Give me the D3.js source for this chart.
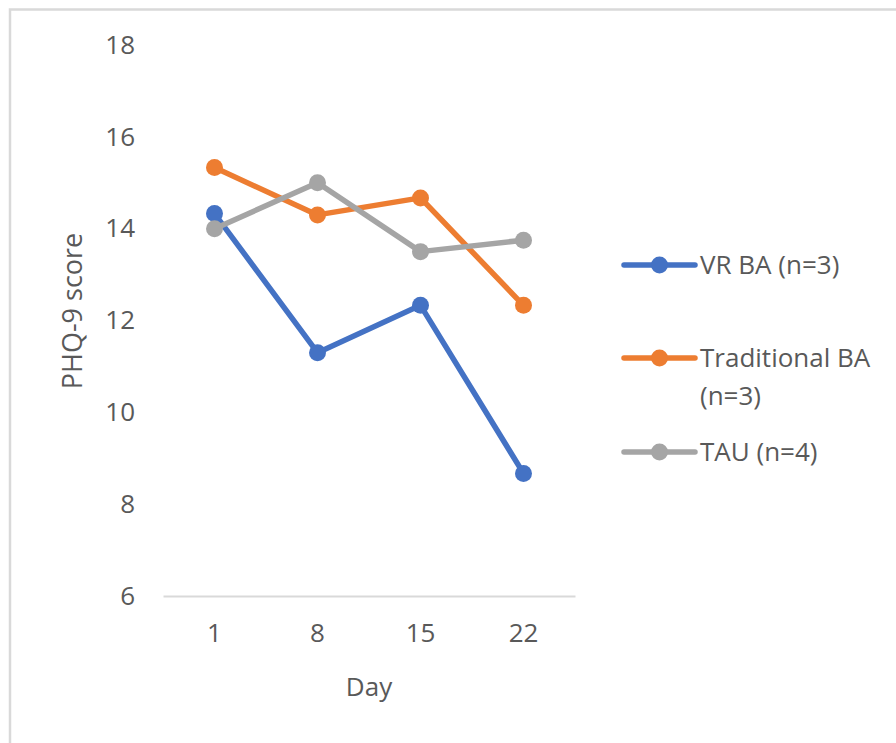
<!DOCTYPE html>
<html lang="en">
    <head>
        <meta charset="utf-8">
        <title>PHQ-9 score by day</title>
        <script src="https://d3js.org/d3.v7.min.js"></script>
        <style type="text/css">
            body {
              margin: 0;
              background: white;
            }
            text {
              font-family: "Open Sans", "Noto Sans", sans-serif;
              fill: #595959;
            }
        </style>
    </head>
    <body>
        <div id="chart"></div>

        <script type="text/javascript">

        //DATA
            const days = ["1", "8", "15", "22"];
            const vrBA = [14.33, 11.3, 12.33, 8.67];
            const traditionalBA = [15.33, 14.3, 14.67, 12.33];
            const tau = [14, 15, 13.5, 13.75];
            const seriesNames = ["VR BA (n=3)", "Traditional BA (n=3)", "TAU (n=4)"];
            const yTicks = [6, 8, 10, 12, 14, 16, 18];

        //CONSTANTS
            const w = 896;
            const h = 743;
            const colors = ["#4472C4", "#ED7D31", "#A5A5A5"];

            const series = [vrBA, traditionalBA, tau].map((vals, i) => ({
                name: seriesNames[i],
                color: colors[i],
                values: vals.map((v, j) => ({day: days[j], value: v}))
            }));

            const svg = d3.select("#chart")
                    .append("svg")
                    .attr("width", w)
                    .attr("height", h);

            //FRAME (only left and top edges are visible in the crop)
            svg.append("path")
                .attr("d", "M10," + h + "V9.5H" + w)
                .attr("fill", "none")
                .attr("stroke", "#d9d9d9")
                .attr("stroke-width", 2.5);

        //SCALES
            const xScale = d3.scaleBand()
                            .domain(days)
                            .range([163, 575]);

            const yScale = d3.scaleLinear()
                            .domain([6, 18])
                            .range([596, 45]);

        //AXES
            const bottomAxis = d3.axisBottom(xScale).tickSize(0).tickPadding(28);
            const leftAxis = d3.axisLeft(yScale).tickValues(yTicks).tickSize(0).tickPadding(28);

            const gx = svg.append("g")
                .attr("transform", "translate(0," + yScale(6) + ")")
                .call(bottomAxis);
            gx.select(".domain").attr("stroke", "#d9d9d9").attr("stroke-width", 2);
            gx.selectAll("text").attr("font-size", 26).attr("font-family", null).attr("fill", "#595959");

            const gy = svg.append("g")
                .attr("transform", "translate(163,0)")
                .call(leftAxis);
            gy.select(".domain").remove();
            gy.selectAll("text").attr("font-size", 26).attr("font-family", null).attr("fill", "#595959");

            //AXIS TITLES
            svg.append("text")
                .attr("x", 369)
                .attr("y", 696)
                .attr("text-anchor", "middle")
                .attr("font-size", 26)
                .text("Day");

            svg.append("text")
                .attr("transform", "translate(82,311) rotate(-90)")
                .attr("text-anchor", "middle")
                .attr("font-size", 27)
                .text("PHQ-9 score");

        //LINES
            const line = d3.line()
                .x(d => xScale(d.day) + xScale.bandwidth() / 2)
                .y(d => yScale(d.value));

            const g = svg.selectAll(".series")
                .data(series)
                .enter()
                .append("g")
                .attr("class", "series");

            g.append("path")
                .attr("d", d => line(d.values))
                .attr("fill", "none")
                .attr("stroke", d => d.color)
                .attr("stroke-width", 5.5)
                .attr("stroke-linejoin", "round");

            g.selectAll("circle")
                .data(d => d.values.map(v => ({...v, color: d.color})))
                .enter()
                .append("circle")
                .attr("cx", d => xScale(d.day) + xScale.bandwidth() / 2)
                .attr("cy", d => yScale(d.value))
                .attr("r", 8.5)
                .attr("fill", d => d.color);

        //LEGEND
            const legendY = [265, 358, 452];
            const legend = svg.selectAll(".legend")
                .data(series)
                .enter()
                .append("g")
                .attr("class", "legend")
                .attr("transform", (d, i) => "translate(624," + legendY[i] + ")");

            legend.append("line")
                .attr("x1", 0)
                .attr("x2", 71)
                .attr("stroke", d => d.color)
                .attr("stroke-width", 5.5)
                .attr("stroke-linecap", "round");

            legend.append("circle")
                .attr("cx", 35.5)
                .attr("r", 8.5)
                .attr("fill", d => d.color);

            const ltext = legend.append("text")
                .attr("x", 76)
                .attr("y", 9)
                .attr("font-size", 26);

            // Traditional BA wraps onto two lines
            ltext.each(function(d) {
                const parts = d.name === "Traditional BA (n=3)" ? ["Traditional BA", "(n=3)"] : [d.name];
                d3.select(this).selectAll("tspan")
                    .data(parts)
                    .enter()
                    .append("tspan")
                    .attr("x", 76)
                    .attr("dy", (p, i) => i === 0 ? 0 : 38)
                    .text(p => p);
            });
        </script>
    </body>
</html>
